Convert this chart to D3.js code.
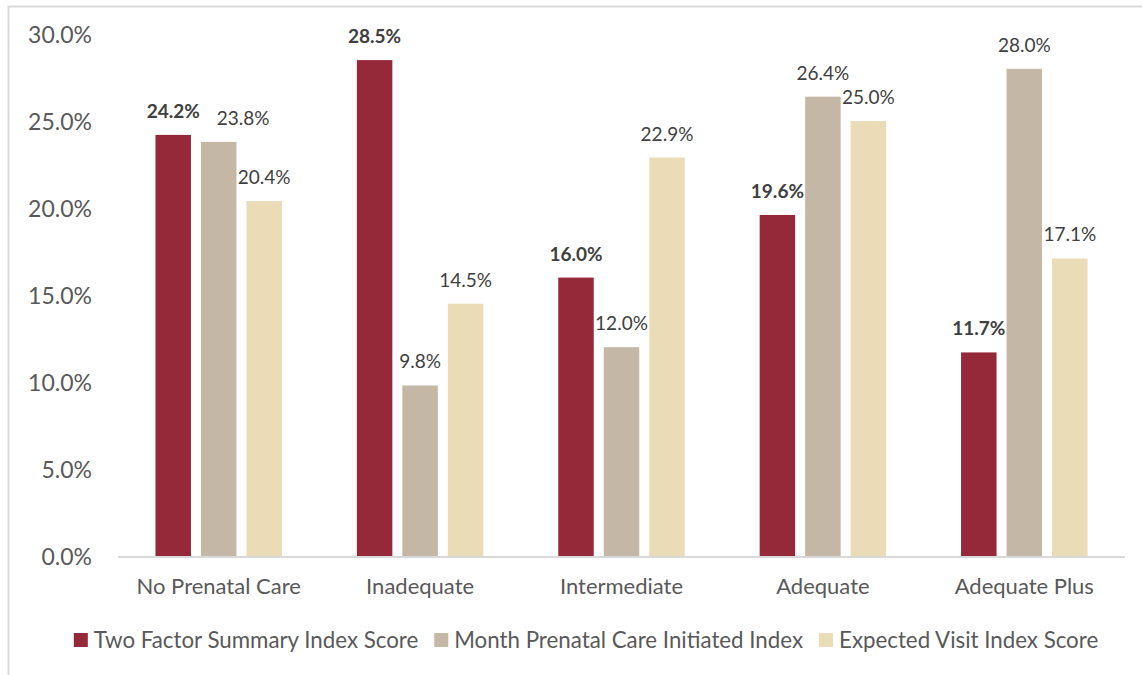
<!DOCTYPE html>
<html>
<head>
<meta charset="utf-8">
<script src="https://cdn.jsdelivr.net/npm/d3@7"></script>
<style>
  html, body { margin: 0; padding: 0; background: #fff; }
  svg { display: block; font-family: Lato, 'Open Sans', sans-serif; }
</style>
</head>
<body>
<svg id="chart" width="1142" height="675"></svg>
<script>
'use strict'

const categories = ['No Prenatal Care', 'Inadequate', 'Intermediate', 'Adequate', 'Adequate Plus']
const seriesNames = ['Two Factor Summary Index Score', 'Month Prenatal Care Initiated Index', 'Expected Visit Index Score']
const twoFactor = [24.2, 28.5, 16.0, 19.6, 11.7]
const monthInitiated = [23.8, 9.8, 12.0, 26.4, 28.0]
const expectedVisit = [20.4, 14.5, 22.9, 25.0, 17.1]
const yTicks = [0, 5, 10, 15, 20, 25, 30]
const colors = ['#952839', '#c4b7a6', '#ebdcb8']

const width = 1142
const height = 675
const svg = d3.select('#chart')

// chart frame
svg.append('rect')
  .attr('x', 8.5).attr('y', 6.5)
  .attr('width', width + 10).attr('height', height + 10)
  .attr('fill', 'none')
  .attr('stroke', '#d9d9d9')
  .attr('stroke-width', 2)

const series = [twoFactor, monthInitiated, expectedVisit]
const data = categories.map((c, i) => ({
  category: c,
  values: series.map((s, j) => ({ key: j, value: s[i] }))
}))

const x0 = d3.scaleBand()
  .domain(categories)
  .range([118, 1125])
  .paddingInner(0.372)
  .paddingOuter(0.186)

const x1 = d3.scaleBand()
  .domain([0, 1, 2])
  .range([0, x0.bandwidth()])
  .paddingInner(0.22)

const y = d3.scaleLinear()
  .domain([0, 30])
  .range([556, 34])

// y tick labels (no gridlines)
svg.append('g')
  .selectAll('text')
  .data(yTicks)
  .enter().append('text')
  .attr('x', 92)
  .attr('y', d => y(d) + 9)
  .attr('text-anchor', 'end')
  .attr('font-size', 23)
  .attr('fill', '#595959')
  .text(d => d3.format('.1f')(d) + '%')

// bars
const group = svg.append('g')
  .selectAll('g')
  .data(data)
  .enter().append('g')
  .attr('transform', d => `translate(${x0(d.category)},0)`)

group.selectAll('rect')
  .data(d => d.values)
  .enter().append('rect')
  .attr('x', d => x1(d.key))
  .attr('y', d => y(d.value))
  .attr('width', x1.bandwidth())
  .attr('height', d => y(0) - y(d.value))
  .attr('fill', d => colors[d.key])

group.selectAll('text')
  .data(d => d.values)
  .enter().append('text')
  .attr('x', d => x1(d.key) + x1.bandwidth() / 2)
  .attr('y', d => y(d.value) - 17)
  .attr('text-anchor', 'middle')
  .attr('font-size', 19)
  .attr('font-weight', d => d.key === 0 ? 'bold' : 'normal')
  .attr('fill', '#404040')
  .text(d => d3.format('.1f')(d.value) + '%')

// nudge a label to the right when it collides with its left neighbour
group.each(function () {
  const labels = d3.select(this).selectAll('text').nodes()
  for (let i = 1; i < labels.length; i++) {
    const prev = labels[i - 1].getBBox()
    const cur = labels[i].getBBox()
    const overlapY = cur.y < prev.y + prev.height && prev.y < cur.y + cur.height
    if (overlapY && cur.x < prev.x + prev.width + 14) {
      const shift = prev.x + prev.width + 17 - cur.x
      labels[i].setAttribute('x', +labels[i].getAttribute('x') + shift)
    }
  }
})

// x axis line
svg.append('line')
  .attr('x1', 118).attr('x2', 1125)
  .attr('y1', y(0) + 1).attr('y2', y(0) + 1)
  .attr('stroke', '#d9d9d9')
  .attr('stroke-width', 2)

// category labels
svg.append('g')
  .selectAll('text')
  .data(categories)
  .enter().append('text')
  .attr('x', d => x0(d) + x0.bandwidth() / 2)
  .attr('y', 594)
  .attr('text-anchor', 'middle')
  .attr('font-size', 22)
  .attr('fill', '#595959')
  .text(d => d)

// legend, laid out from measured text widths and centred
const legend = svg.append('g')
let cursor = 0
seriesNames.forEach((name, i) => {
  const item = legend.append('g').attr('transform', `translate(${cursor},0)`)
  item.append('rect')
    .attr('x', 0).attr('y', -15)
    .attr('width', 14).attr('height', 14)
    .attr('fill', colors[i])
  const t = item.append('text')
    .attr('x', 20)
    .attr('y', 0)
    .attr('font-size', 22.3)
    .attr('fill', '#595959')
    .text(name)
  cursor += 20 + t.node().getComputedTextLength() + 16
})
const legendWidth = cursor - 16
legend.attr('transform', `translate(${586 - legendWidth / 2},648)`)
</script>
</body>
</html>
